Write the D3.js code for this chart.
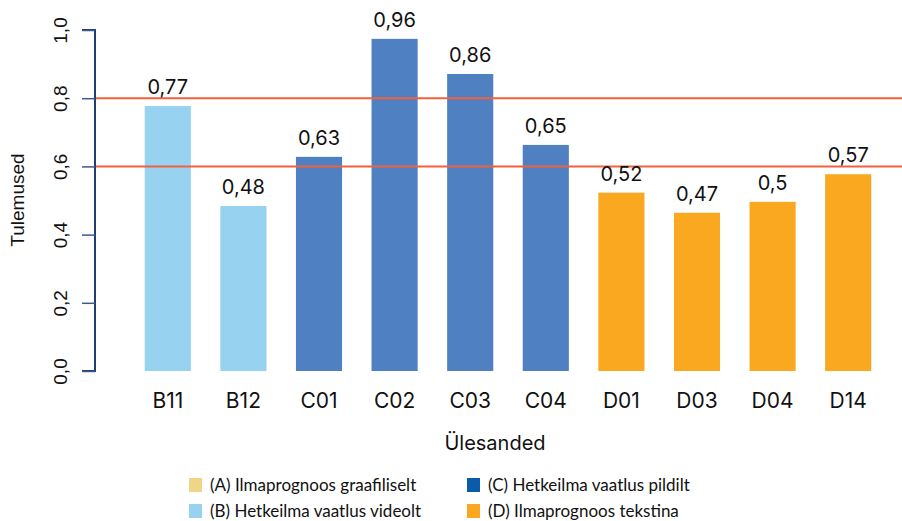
<!DOCTYPE html>
<html>
<head>
<meta charset="utf-8">
<script src="https://cdn.jsdelivr.net/npm/d3@7"></script>
<style>
  body { margin: 0; background: #fff; }
  svg { display: block; }
</style>
</head>
<body>
<script>
// data
var categories = ["B11", "B12", "C01", "C02", "C03", "C04", "D01", "D03", "D04", "D14"];
var groups     = ["B", "B", "C", "C", "C", "C", "D", "D", "D", "D"];
var values     = [0.777, 0.484, 0.628, 0.974, 0.871, 0.663, 0.523, 0.464, 0.496, 0.577];
var valueLabels = ["0,77", "0,48", "0,63", "0,96", "0,86", "0,65", "0,52", "0,47", "0,5", "0,57"];
var yTicks = [0, 0.2, 0.4, 0.6, 0.8, 1.0];
var refLines = [0.6, 0.8];
var legendItems = [
    { key: "A", label: "(A) Ilmaprognoos graafiliselt" },
    { key: "C", label: "(C) Hetkeilma vaatlus pildilt" },
    { key: "B", label: "(B) Hetkeilma vaatlus videolt" },
    { key: "D", label: "(D) Ilmaprognoos tekstina" }
];

var barColor = { B: "#97d2f0", C: "#4f81c2", D: "#f9a820" };
var legendColor = { A: "#f0d488", B: "#97d2f0", C: "#0a5baa", D: "#f9a81f" };

var width = 902;
var height = 521;

var svg = d3.select("body").append("svg")
    .attr("width", width)
    .attr("height", height);

// scales
var yScale = d3.scaleLinear()
    .domain([0, 1])
    .range([371, 30]);

var xScale = d3.scaleBand()
    .domain(categories)
    .range([130, 886])
    .paddingInner(0.39)
    .paddingOuter(0.195);

var axisX = 95;

// bars
svg.append("g").selectAll("rect")
    .data(categories)
    .enter().append("rect")
    .attr("x", function (d) { return xScale(d); })
    .attr("width", xScale.bandwidth())
    .attr("y", function (d, i) { return yScale(values[i]); })
    .attr("height", function (d, i) { return yScale(0) - yScale(values[i]); })
    .attr("fill", function (d, i) { return barColor[groups[i]]; });

// reference lines
svg.append("g").selectAll("line")
    .data(refLines)
    .enter().append("line")
    .attr("x1", axisX)
    .attr("x2", width)
    .attr("y1", function (d) { return yScale(d); })
    .attr("y2", function (d) { return yScale(d); })
    .attr("stroke", "#f2603c")
    .attr("stroke-width", 2);

// value labels
svg.append("g").selectAll("text")
    .data(categories)
    .enter().append("text")
    .attr("x", function (d) { return xScale(d) + xScale.bandwidth() / 2; })
    .attr("y", function (d, i) { return yScale(values[i]) - 12; })
    .attr("text-anchor", "middle")
    .style("font-family", "Inter, sans-serif")
    .style("font-size", "20px")
    .attr("fill", "#111")
    .text(function (d, i) { return valueLabels[i]; });

// y axis
var yAxis = d3.axisLeft(yScale)
    .tickValues(yTicks)
    .tickSize(13)
    .tickFormat(function (d) { return d3.format(".1f")(d).replace(".", ","); });

var yAxisGroup = svg.append("g")
    .attr("class", "y axis")
    .attr("transform", "translate(" + axisX + ",0)")
    .call(yAxis);

yAxisGroup.select(".domain")
    .attr("d", "M" + (-13) + "," + yScale(1) + "H0V" + yScale(0) + "H-13")
    .attr("stroke", "#1f3f73")
    .attr("stroke-width", 2);
yAxisGroup.selectAll(".tick line").attr("stroke", "#3a5a8c").attr("stroke-width", 1.5);
yAxisGroup.selectAll(".tick text")
    .attr("transform", "rotate(-90)")
    .attr("x", 0)
    .attr("y", -35)
    .attr("dy", "0.35em")
    .attr("text-anchor", "middle")
    .attr("fill", "#111")
    .style("font-family", "'Liberation Sans', Arial, sans-serif")
    .style("font-size", "19px");

// x axis labels (no axis line)
var xAxis = d3.axisBottom(xScale).tickSize(0).tickPadding(0);
var xAxisGroup = svg.append("g")
    .attr("class", "x axis")
    .attr("transform", "translate(0,408)")
    .call(xAxis);
xAxisGroup.select(".domain").remove();
xAxisGroup.selectAll(".tick text")
    .attr("dy", 0)
    .attr("fill", "#111")
    .style("font-family", "Inter, sans-serif")
    .style("font-size", "21px");

// axis titles
svg.append("text")
    .attr("x", 495)
    .attr("y", 450)
    .attr("text-anchor", "middle")
    .attr("fill", "#111")
    .style("font-family", "Inter, sans-serif")
    .style("font-size", "20px")
    .text("Ülesanded");

svg.append("text")
    .attr("transform", "translate(24,200) rotate(-90)")
    .attr("text-anchor", "middle")
    .attr("fill", "#111")
    .style("font-family", "'Liberation Sans', Arial, sans-serif")
    .style("font-size", "19px")
    .text("Tulemused");

// legend
var legend = svg.append("g").selectAll("g")
    .data(legendItems)
    .enter().append("g")
    .attr("transform", function (d, i) {
        var col = i % 2, row = Math.floor(i / 2);
        return "translate(" + (col === 0 ? 189 : 467) + "," + (478 + row * 26) + ")";
    });

legend.append("rect")
    .attr("width", 13)
    .attr("height", 14)
    .attr("fill", function (d) { return legendColor[d.key]; });

legend.append("text")
    .attr("x", 21)
    .attr("y", 13)
    .attr("fill", "#111")
    .style("font-family", "Lato, sans-serif")
    .style("font-size", "17px")
    .text(function (d) { return d.label; });
</script>
</body>
</html>
